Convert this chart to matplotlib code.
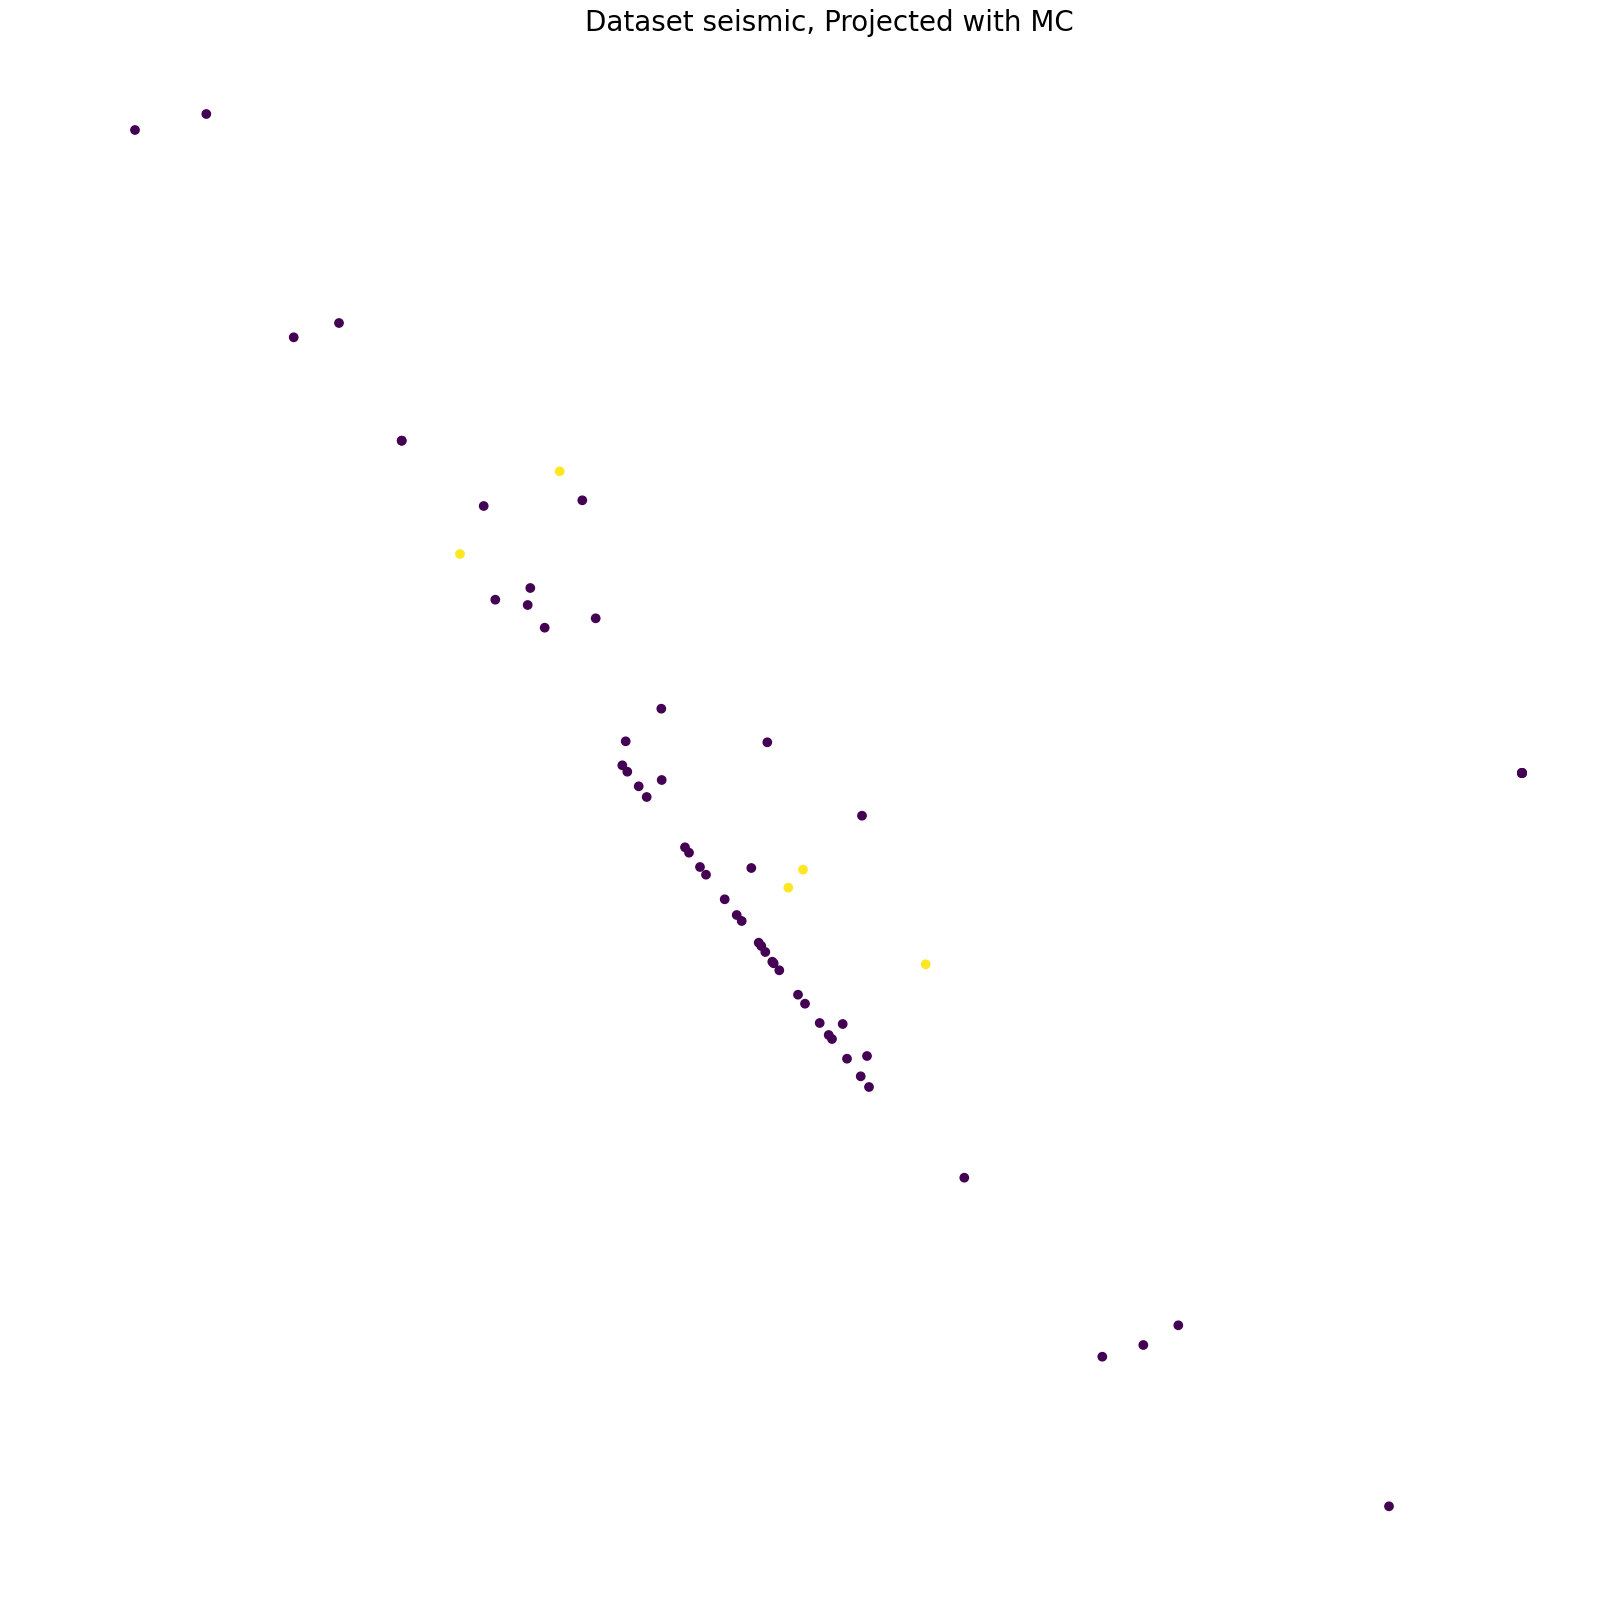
import matplotlib
matplotlib.use("Agg")
import matplotlib.pyplot as plt
import numpy as np

# projected coordinates, label 1 = yellow
xs = [135.0, 206.3, 293.7, 339.0, 401.7, 401.7,
      559.7, 582.3, 483.7, 460.0, 530.3, 495.3, 527.7, 595.7, 544.7,
      661.3, 625.7, 767.3, 622.3, 627.3, 661.7, 638.7, 646.7,
      862.0, 685.0, 689.0, 700.0, 706.0, 751.3, 803.0, 788.3, 724.7,
      736.7, 741.7, 758.7, 761.3, 765.3, 772.3, 773.7, 779.3,
      798.0, 805.0, 819.7, 842.7, 828.7, 832.0, 847.0, 867.0, 860.7, 869.0,
      925.7, 964.3, 1102.3, 1143.3, 1178.3, 1389.0,
      1522.0, 1522.0, 1522.0, 1522.0, 1522.0]
ys = [130.0, 114.0, 337.3, 323.0, 440.7, 440.7,
      471.3, 500.3, 506.0, 554.0, 588.0, 599.7, 605.0, 618.3, 627.7,
      708.7, 741.3, 742.3, 765.3, 771.7, 780.0, 786.3, 797.0,
      815.7, 847.3, 852.7, 867.0, 874.7, 868.0, 869.7, 887.7, 899.3,
      915.0, 921.0, 942.7, 946.0, 952.0, 961.7, 963.3, 970.3,
      994.7, 1003.7, 1023.0, 1024.0, 1035.0, 1039.0, 1058.7, 1056.0, 1076.3, 1087.0,
      964.3, 1177.7, 1356.7, 1345.0, 1325.3, 1506.3,
      773.0, 773.0, 773.0, 773.0, 773.0]
labels = [0, 0, 0, 0, 0, 0,
          1, 0, 0, 1, 0, 0, 0, 0, 0,
          0, 0, 0, 0, 0, 0, 0, 0,
          0, 0, 0, 0, 0, 0, 1, 1, 0,
          0, 0, 0, 0, 0, 0, 0, 0,
          0, 0, 0, 0, 0, 0, 0, 0, 0, 0,
          1, 0, 0, 0, 0, 0,
          0, 0, 0, 0, 0]

fig = plt.figure(figsize=(16.16, 16.14), dpi=100)
ax = fig.add_axes([0, 0, 1, 1])
ax.scatter(xs, ys, c=labels, cmap="viridis", s=36)
ax.set_xlim(0, 1616)
ax.set_ylim(1614, 0)
ax.axis("off")
fig.text(829 / 1616, 1 - 23 / 1614, "Dataset seismic, Projected with MC",
         ha="center", va="center", fontsize=20)

fig.savefig("out.png", dpi=100)
